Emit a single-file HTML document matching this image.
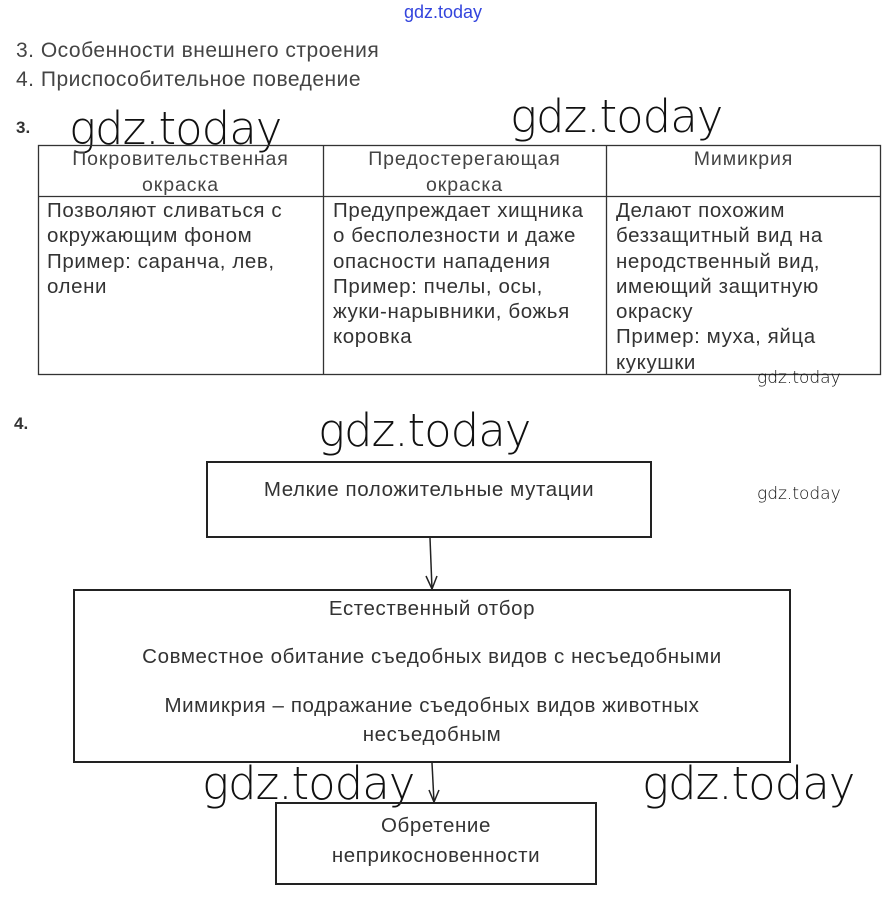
<!DOCTYPE html>
<html><head><meta charset="utf-8"><style>
body{margin:0;width:892px;height:899px;background:#fff;position:relative;overflow:hidden;font-family:"Liberation Sans","DejaVu Sans",sans-serif;color:#333}
.a{position:absolute;white-space:nowrap}
.wm{position:absolute;font-family:"DejaVu Sans","Liberation Sans",sans-serif;font-weight:200;color:#111;letter-spacing:-1px;white-space:nowrap}
.box{position:absolute;border:2px solid #222;box-sizing:border-box}
.c{position:absolute;text-align:center;white-space:nowrap}
.cell{position:absolute;font-size:20.5px;letter-spacing:0.6px;line-height:25.3px;color:#333;white-space:nowrap}
.hd{position:absolute;font-size:19.5px;letter-spacing:0.9px;line-height:26px;text-align:center;color:#444}
.fl{font-family:"Liberation Sans",sans-serif;color:#333;font-size:20.5px;letter-spacing:0.6px}
</style></head><body>
<div class="a" style="left:404px;top:2px;font-size:18px;color:#3344dd">gdz.today</div>
<div class="a" style="left:16px;top:39px;font-size:21px;letter-spacing:0.5px;color:#444">3. Особенности внешнего строения</div>
<div class="a" style="left:16px;top:68px;font-size:21px;letter-spacing:0.5px;color:#444">4. Приспособительное поведение</div>
<div class="a" style="left:16px;top:118px;font-size:17px;font-weight:bold;color:#333">3.</div>
<div class="wm" style="left:69px;top:102px;font-size:45px">gdz.today</div>
<div class="wm" style="left:510px;top:90px;font-size:45px">gdz.today</div>

<svg class="a" style="left:0;top:0" width="892" height="899">
<g stroke="#333" stroke-width="1.3" fill="none">
<rect x="38.5" y="145.5" width="842" height="229"/>
<line x1="38" y1="196.5" x2="881" y2="196.5"/>
<line x1="323.5" y1="145" x2="323.5" y2="374"/>
<line x1="606.5" y1="145" x2="606.5" y2="374"/>
</g>
<g stroke="#222" stroke-width="1.5" fill="none">
<line x1="430" y1="538" x2="432" y2="589"/>
<polyline points="426,576 432,589 437,576"/>
<line x1="432" y1="763" x2="434" y2="802"/>
<polyline points="429,790 434,802 439,790"/>
</g>
</svg>

<div class="hd" style="left:38px;top:146px;width:285px">Покровительственная<br>окраска</div>
<div class="hd" style="left:323px;top:146px;width:283px">Предостерегающая<br>окраска</div>
<div class="hd" style="left:606px;top:146px;width:275px">Мимикрия</div>
<div class="cell" style="left:47px;top:198px">Позволяют сливаться с<br>окружающим фоном<br>Пример: саранча, лев,<br>олени</div>
<div class="cell" style="left:333px;top:198px">Предупреждает хищника<br>о бесполезности и даже<br>опасности нападения<br>Пример: пчелы, осы,<br>жуки-нарывники, божья<br>коровка</div>
<div class="cell" style="left:616px;top:198px">Делают похожим<br>беззащитный вид на<br>неродственный вид,<br>имеющий защитную<br>окраску<br>Пример: муха, яйца<br>кукушки</div>
<div class="wm" style="left:757px;top:368px;font-size:17px;letter-spacing:0">gdz.today</div>

<div class="a" style="left:14px;top:414px;font-size:17px;font-weight:bold;color:#333">4.</div>
<div class="wm" style="left:318px;top:404px;font-size:45px">gdz.today</div>
<div class="wm" style="left:757px;top:484px;font-size:17px;letter-spacing:0">gdz.today</div>

<div class="box" style="left:206px;top:461px;width:446px;height:77px"></div>
<div class="c fl" style="left:206px;top:478px;width:446px">Мелкие положительные мутации</div>

<div class="box" style="left:73px;top:589px;width:718px;height:174px"></div>
<div class="c fl" style="left:73px;top:597px;width:718px">Естественный отбор</div>
<div class="c fl" style="left:73px;top:645px;width:718px">Совместное обитание съедобных видов с несъедобными</div>
<div class="c fl" style="left:73px;top:691px;width:718px;line-height:29px">Мимикрия – подражание съедобных видов животных<br>несъедобным</div>

<div class="wm" style="left:202px;top:757px;font-size:45px">gdz.today</div>
<div class="wm" style="left:642px;top:757px;font-size:45px">gdz.today</div>

<div class="box" style="left:275px;top:802px;width:322px;height:83px"></div>
<div class="c fl" style="left:275px;top:811px;width:322px;line-height:30px">Обретение<br>неприкосновенности</div>
</body></html>
